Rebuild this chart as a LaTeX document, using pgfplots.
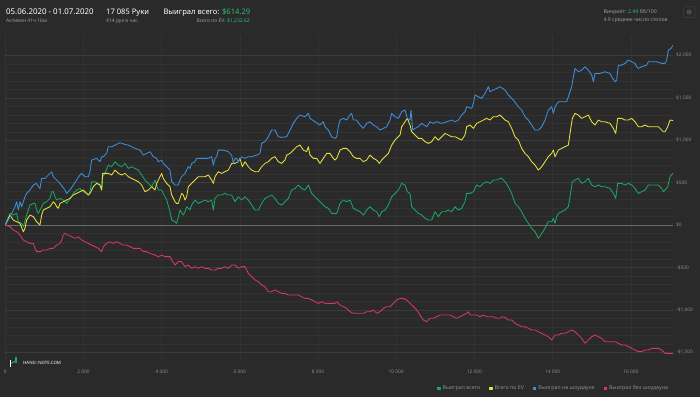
\documentclass[border=0pt]{standalone}
\usepackage{pgfplots}
\pgfplotsset{compat=1.18}
\usepackage{fontspec}
\setmainfont{Noto Sans}
\definecolor{bg}{HTML}{2A2A2A}
\definecolor{gmaj}{HTML}{3B3B3B}
\definecolor{gmin}{HTML}{323232}
\definecolor{zeroc}{HTML}{6A6A6A}
\definecolor{lbl}{HTML}{8C8C8C}
\definecolor{sub}{HTML}{9A9A9A}
\definecolor{cblue}{HTML}{3D8FDC}
\definecolor{cyellow}{HTML}{E6E23C}
\definecolor{cgreen}{HTML}{17A766}
\definecolor{cpink}{HTML}{D9346D}
\definecolor{money}{HTML}{2DBE73}
\begin{document}
\begin{tikzpicture}[x=1pt,y=1pt]
\fill[bg] (0,0) rectangle (700,397);
% header
\node[anchor=base west,inner sep=0,text=white,font=\fontsize{7.9}{9}\selectfont] at (6,382) {05.06.2020 - 01.07.2020};
\node[anchor=base west,inner sep=0,text=sub,font=\fontsize{5}{6}\selectfont] at (6,374.3) {Активен 41ч 16м};
\node[anchor=base west,inner sep=0,text=white,font=\fontsize{7.6}{9}\selectfont] at (106,382) {17 085 Руки};
\node[anchor=base west,inner sep=0,text=sub,font=\fontsize{5}{6}\selectfont] at (106,374.3) {414 рук в час};
\node[anchor=base west,inner sep=0,text=white,font=\fontsize{7.6}{9}\selectfont] at (163.3,382) {Выиграл всего: \textcolor{money}{\$614.29}};
\node[anchor=base east,inner sep=0,text=sub,font=\fontsize{5}{6}\selectfont] at (250,374.3) {Всего по EV: \textcolor{money}{\$1,232.62}};
\node[anchor=base west,inner sep=0,text=sub,font=\fontsize{5.2}{6}\selectfont] at (603.3,383.5) {Винрейт: \textcolor{money}{2.44} бб/100};
\node[anchor=base west,inner sep=0,text=sub,font=\fontsize{5.2}{6}\selectfont] at (603.3,375.5) {4.9 среднее число столов};
\draw[gmaj,line width=0.6pt,rounded corners=1.5pt] (683.3,379.5) rectangle (695,390.3);
\draw[gmaj!80!white,line width=0.6pt] (689.15,384.9) circle (2.2);
\draw[gmaj!80!white,line width=0.6pt] (689.15,384.9) circle (0.8);
\begin{axis}[
  at={(5.3pt,36.3pt)}, anchor=south west,
  scale only axis, width=667.9pt, height=325.6pt,
  xmin=0, xmax=17085, ymin=-1600, ymax=2240,
  scaled x ticks=false, scaled y ticks=false,
  axis line style={draw=none},
  major tick length=0pt, minor tick length=0pt,
  xtick={0,2000,4000,6000,8000,10000,12000,14000,16000},
  xticklabels={0,2 000,4 000,6 000,8 000,10 000,12 000,14 000,16 000},
  ytick={-1500,-1000,-500,0,500,1000,1500,2000},
  yticklabels={{-\$1,500},{-\$1,000},{-\$500},{\$0},{\$500},{\$1,000},{\$1,500},{\$2,000}},
  minor y tick num=4,
  yticklabel pos=right,
  grid=both,
  major grid style={gmaj,line width=0.5pt},
  minor grid style={gmin,line width=0.4pt},
  x grid style={gmin,line width=0.5pt},
  tick label style={text=lbl,font=\fontsize{4.8}{5}\selectfont},
  yticklabel style={anchor=west,xshift=-0.5pt},
  xticklabel style={yshift=-6pt},
  extra y ticks={0}, extra y tick labels={},
  extra y tick style={grid=major, major grid style={zeroc,line width=0.9pt}},
  legend columns=4,
  legend cell align=left,
  legend style={draw=none,fill=none,text=lbl,font=\fontsize{5.3}{6}\selectfont,
    at={(1,-0.086)},anchor=east,
    /tikz/every even column/.append style={column sep=7pt}},
  legend image code/.code={\fill[#1] (0pt,-1.2pt) rectangle (2.4pt,1.2pt);},
  every axis plot/.append style={line width=0.85pt, line join=round},
]
\addplot[cgreen] coordinates {
(0,0) (120,138) (205,118) (290,138) (333,39) (418,20) (461,-20) (546,118) (631,236) (717,255) (759,255) (802,177) (845,138) (930,216) (973,255) (1058,275) (1143,314) (1186,393) (1228,393) (1271,334) (1314,295) (1399,314) (1484,295) (1569,255) (1655,314) (1740,373) (1825,413) (1910,432) (1996,393) (2081,373) (2124,354) (2166,393) (2209,511) (2294,511) (2380,491) (2422,472) (2465,413) (2490,570) (2550,609) (2635,707) (2721,688) (2806,747) (2891,707) (2976,688) (3062,727) (3147,668) (3232,688) (3317,668) (3403,648) (3488,590) (3573,531) (3659,491) (3744,452) (3829,531) (3914,413) (4000,413) (4042,373) (4128,295) (4213,157)
(4256,59) (4341,39) (4383,20) (4426,98) (4469,177) (4554,118) (4597,157) (4639,216) (4725,177) (4767,236) (4852,295) (4938,255) (5023,275) (5108,295) (5194,275) (5279,295) (5321,177) (5364,314) (5449,354) (5535,354) (5620,373) (5705,354) (5790,354) (5876,275) (5961,334) (6046,295) (6132,334) (6217,295) (6302,236) (6387,177) (6473,177) (6558,255) (6643,314) (6728,334) (6814,354) (6899,314) (6984,255) (7070,236) (7155,275) (7240,314) (7325,413) (7411,432) (7496,472) (7581,432) (7666,413) (7752,472) (7837,373) (7922,334) (8007,295) (8093,255) (8178,216) (8263,197) (8349,138) (8434,138)
(8477,138) (8562,255) (8647,295) (8732,275) (8818,295) (8903,197) (8988,177) (9073,157) (9159,118) (9244,177) (9329,216) (9415,177) (9500,157) (9568,98) (9628,157) (9713,177) (9798,236) (9884,334) (9969,373) (10054,413) (10139,491) (10225,472) (10284,393) (10353,373) (10395,216) (10480,177) (10566,138) (10651,118) (10736,79) (10822,59) (10907,59) (10992,157) (11077,98) (11163,157) (11248,157) (11333,177) (11418,157) (11504,216) (11589,177) (11674,197) (11759,275) (11802,373) (11887,373) (11973,393) (12058,472) (12143,452) (12228,491) (12314,511) (12399,491) (12484,531) (12570,531) (12655,550)
(12698,550) (12783,511) (12868,452) (12953,373) (13039,255) (13124,216) (13209,157) (13294,79) (13380,20) (13465,-39) (13550,-79) (13636,-157) (13721,-98) (13806,-39) (13891,39) (13977,39) (14019,79) (14062,20) (14104,98) (14147,138) (14232,157) (14318,177) (14403,216) (14446,334) (14505,511) (14574,531) (14659,550) (14744,491) (14829,511) (14915,550) (15000,472) (15085,452) (15170,472) (15256,452) (15341,452) (15469,432) (15554,373) (15614,314) (15665,491) (15767,491) (15853,472) (15938,491) (16023,472) (16108,432) (16194,373) (16279,393) (16364,413) (16449,472) (16577,472) (16705,472) (16791,432) (16833,393) (16876,413) (16944,452) (17004,570) (17085,614)
};
\addlegendentry{Выиграл всего}
\addplot[cyellow] coordinates {
(0,0) (120,118) (205,59) (290,39) (376,20) (461,-79) (504,-39) (546,59) (631,118) (717,98) (802,39) (845,20) (887,0) (930,118) (973,177) (1058,197) (1143,216) (1228,275) (1271,255) (1314,216) (1356,197) (1399,255) (1484,275) (1569,295) (1655,314) (1740,354) (1825,373) (1910,393) (1996,413) (2081,373) (2124,354) (2166,373) (2252,452) (2337,491) (2422,472) (2465,413) (2490,609) (2550,609) (2635,609) (2721,590) (2806,648) (2891,609) (2976,590) (3062,609) (3147,570) (3232,550) (3317,531) (3403,511) (3488,472) (3573,393) (3659,413) (3744,452) (3829,413) (3872,491) (3957,570) (4000,609) (4042,550) (4128,491) (4213,452)
(4256,354) (4341,275) (4383,255) (4426,255) (4511,373) (4554,354) (4597,295) (4639,334) (4682,452) (4767,491) (4852,531) (4938,570) (5023,570) (5108,570) (5194,590) (5279,531) (5321,491) (5364,570) (5449,629) (5535,609) (5620,629) (5705,648) (5790,727) (5876,727) (5961,747) (6004,786) (6063,688) (6132,747) (6217,688) (6302,648) (6387,629) (6473,629) (6558,688) (6643,727) (6728,747) (6814,786) (6899,806) (6984,747) (7070,727) (7155,766) (7197,825) (7283,845) (7368,884) (7453,924) (7538,943) (7624,884) (7709,865) (7752,924) (7794,825) (7880,786) (7965,786) (8050,727) (8135,786) (8221,845) (8306,845) (8391,786) (8434,766)
(8477,786) (8562,884) (8647,904) (8732,904) (8818,865) (8903,806) (8988,786) (9073,786) (9159,747) (9244,766) (9329,825) (9415,786) (9500,766) (9568,727) (9628,766) (9713,806) (9798,845) (9884,943) (9969,1002) (10097,1061) (10139,1159) (10225,1218) (10284,1258) (10353,1179) (10395,1100) (10480,1061) (10566,1022) (10651,1022) (10736,983) (10822,963) (10907,983) (10992,1041) (11077,1002) (11163,1041) (11248,1081) (11333,1061) (11418,1041) (11504,1041) (11589,1022) (11674,1002) (11759,1061) (11802,1159) (11887,1179) (11973,1140) (12058,1199) (12143,1218) (12228,1238) (12314,1258) (12399,1238) (12484,1277) (12570,1277) (12655,1297)
(12698,1277) (12783,1238) (12868,1218) (12953,1140) (13039,1041) (13124,1002) (13209,904) (13294,845) (13380,806) (13465,747) (13550,707) (13636,648) (13721,688) (13806,747) (13891,806) (13977,845) (14019,884) (14062,806) (14147,884) (14232,904) (14318,924) (14403,943) (14446,1081) (14505,1258) (14574,1317) (14659,1297) (14744,1258) (14829,1277) (14915,1297) (15000,1218) (15085,1179) (15170,1238) (15256,1218) (15341,1218) (15469,1199) (15554,1140) (15614,1081) (15665,1258) (15767,1258) (15853,1238) (15938,1238) (16023,1258) (16108,1218) (16194,1159) (16279,1159) (16364,1179) (16449,1159) (16577,1159) (16705,1159) (16791,1120) (16833,1100) (16876,1100) (16944,1159) (17004,1238) (17085,1232)
};
\addlegendentry{Всего по EV}
\addplot[cblue] coordinates {
(0,0) (120,98) (248,216) (290,275) (333,177) (376,275) (418,216) (504,334) (546,373) (631,413) (717,472) (802,491) (845,452) (887,432) (930,550) (1015,550) (1058,570) (1143,609) (1186,629) (1228,570) (1314,531) (1399,491) (1527,413) (1569,373) (1655,413) (1740,472) (1825,531) (1910,590) (1953,609) (2038,570) (2124,570) (2166,629) (2209,766) (2337,786) (2422,747) (2465,806) (2507,806) (2593,845) (2635,924) (2721,924) (2806,943) (2934,971) (3062,951) (3147,943) (3232,924) (3317,904) (3445,884) (3531,825) (3616,845) (3701,865) (3786,806) (3872,786) (3914,747) (4000,766) (4042,727) (4128,688) (4213,648)
(4256,511) (4341,472) (4426,472) (4469,531) (4511,570) (4597,609) (4639,648) (4682,688) (4725,668) (4767,727) (4852,747) (4895,786) (4980,786) (5108,786) (5194,786) (5279,806) (5321,707) (5364,786) (5407,806) (5449,884) (5577,884) (5705,865) (5748,845) (5790,825) (5833,727) (5876,786) (5918,786) (5961,747) (6046,806) (6132,786) (6217,806) (6302,806) (6430,825) (6515,845) (6558,963) (6643,983) (6728,1041) (6814,1120) (6899,1120) (6984,1041) (7070,1034) (7197,1041) (7283,1120) (7368,1199) (7453,1258) (7538,1297) (7666,1277) (7752,1317) (7794,1258) (7922,1218) (8050,1179) (8135,1218) (8178,1159) (8263,1120) (8349,1041) (8434,1022)
(8477,1041) (8519,1159) (8562,1238) (8647,1258) (8732,1238) (8818,1297) (8860,1317) (8903,1238) (8988,1238) (9073,1179) (9159,1140) (9244,1199) (9329,1218) (9415,1179) (9500,1159) (9585,1120) (9670,1140) (9756,1159) (9841,1238) (9884,1317) (9969,1277) (10054,1258) (10139,1336) (10225,1356) (10284,1258) (10353,1238) (10378,1356) (10421,1120) (10480,1140) (10566,1159) (10651,1199) (10779,1159) (10864,1218) (10949,1199) (11035,1218) (11163,1199) (11291,1218) (11418,1238) (11504,1218) (11589,1238) (11674,1297) (11759,1336) (11802,1395) (11930,1376) (11973,1434) (12015,1533) (12101,1513) (12186,1493) (12271,1552) (12356,1631) (12399,1572) (12484,1592) (12570,1611) (12655,1631)
(12783,1592) (12868,1533) (12996,1474) (13124,1395) (13209,1356) (13294,1277) (13380,1238) (13465,1179) (13550,1120) (13636,1120) (13721,1159) (13806,1238) (13891,1356) (13977,1395) (14019,1317) (14062,1395) (14147,1454) (14232,1454) (14360,1454) (14403,1513) (14488,1631) (14531,1749) (14574,1847) (14659,1808) (14744,1827) (14829,1867) (14915,1827) (15000,1769) (15043,1690) (15085,1788) (15213,1788) (15341,1808) (15469,1788) (15512,1749) (15597,1690) (15639,1710) (15682,1886) (15767,1886) (15853,1906) (15938,1945) (16023,1926) (16108,1906) (16151,1867) (16194,1847) (16279,1867) (16407,1886) (16449,1926) (16535,1926) (16663,1926) (16791,1906) (16876,1906) (16918,1945) (16961,2063) (17029,2083) (17085,2122)
};
\addlegendentry{Выиграл на шоудауне}
\addplot[cpink] coordinates {
(0,0) (120,-20) (205,-59) (290,-79) (376,-118) (461,-177) (546,-197) (631,-216) (717,-216) (759,-275) (802,-314) (887,-314) (973,-295) (1058,-295) (1143,-275) (1228,-275) (1314,-236) (1399,-216) (1441,-177) (1484,-118) (1527,-98) (1612,-118) (1697,-138) (1783,-157) (1868,-138) (1953,-177) (2038,-197) (2124,-216) (2209,-236) (2294,-255) (2380,-275) (2465,-314) (2507,-255) (2593,-216) (2678,-197) (2763,-216) (2848,-197) (2934,-216) (3019,-236) (3104,-236) (3190,-255) (3275,-275) (3360,-275) (3445,-275) (3531,-314) (3616,-314) (3701,-334) (3829,-354) (3914,-373) (4000,-354) (4085,-373) (4213,-373)
(4256,-413) (4341,-472) (4426,-432) (4511,-432) (4597,-491) (4682,-472) (4767,-511) (4852,-491) (4938,-511) (5023,-491) (5108,-511) (5194,-511) (5279,-531) (5364,-531) (5449,-511) (5535,-511) (5620,-491) (5705,-511) (5790,-472) (5876,-472) (5961,-511) (6046,-491) (6132,-491) (6217,-570) (6302,-609) (6387,-648) (6473,-668) (6558,-707) (6643,-727) (6728,-786) (6814,-786) (6899,-766) (6984,-786) (7070,-806) (7155,-806) (7240,-825) (7325,-825) (7411,-825) (7496,-825) (7581,-845) (7666,-865) (7752,-865) (7837,-884) (7922,-904) (8007,-924) (8093,-904) (8178,-924) (8263,-924) (8349,-924) (8434,-924)
(8477,-904) (8562,-943) (8647,-963) (8732,-983) (8818,-1022) (8903,-1041) (8988,-1041) (9073,-1041) (9159,-1041) (9244,-1022) (9329,-1022) (9415,-1002) (9500,-1041) (9585,-1022) (9670,-983) (9756,-963) (9841,-963) (9926,-924) (10011,-884) (10097,-865) (10182,-865) (10267,-884) (10353,-924) (10438,-963) (10523,-1002) (10608,-1061) (10694,-1120) (10779,-1140) (10864,-1100) (10949,-1100) (11035,-1081) (11120,-1061) (11205,-1061) (11291,-1061) (11376,-1061) (11461,-1081) (11546,-1100) (11632,-1081) (11717,-1061) (11802,-1041) (11845,-1022) (11887,-1061) (11973,-1061) (12058,-1061) (12143,-1081) (12228,-1061) (12314,-1081) (12399,-1081) (12484,-1081) (12570,-1100) (12655,-1100)
(12698,-1081) (12783,-1089) (12868,-1120) (12953,-1120) (13039,-1159) (13124,-1179) (13209,-1199) (13294,-1199) (13380,-1218) (13465,-1238) (13550,-1238) (13636,-1258) (13721,-1277) (13806,-1297) (13891,-1317) (13977,-1356) (14062,-1297) (14147,-1297) (14232,-1277) (14318,-1277) (14403,-1258) (14488,-1238) (14574,-1258) (14659,-1297) (14744,-1336) (14829,-1395) (14915,-1356) (15000,-1317) (15085,-1297) (15170,-1317) (15256,-1336) (15341,-1376) (15426,-1376) (15512,-1376) (15597,-1376) (15682,-1395) (15767,-1415) (15853,-1415) (15938,-1434) (16023,-1454) (16108,-1474) (16194,-1493) (16279,-1493) (16364,-1474) (16449,-1474) (16535,-1454) (16620,-1454) (16705,-1454) (16791,-1474) (16876,-1513) (16961,-1513) (17085,-1513)
};
\addlegendentry{Выиграл без шоудауна}
\end{axis}
% logo
\begin{scope}[shift={(10,30)}]
\fill[white] (0,0) rectangle (1.3,7);
\fill[cgreen] (5.2,4) rectangle (6.5,10.5);
\fill[cgreen] (1.3,3.2) -- (5.2,5.2) -- (5.2,6.4) -- (1.3,4.4) -- cycle;
\end{scope}
\node[anchor=base west,inner sep=0,text=white,font=\bfseries\fontsize{4.4}{5}\selectfont] at (23,33) {HAND\textcolor{cgreen}{2}NOTE.COM};
\end{tikzpicture}
\end{document}
